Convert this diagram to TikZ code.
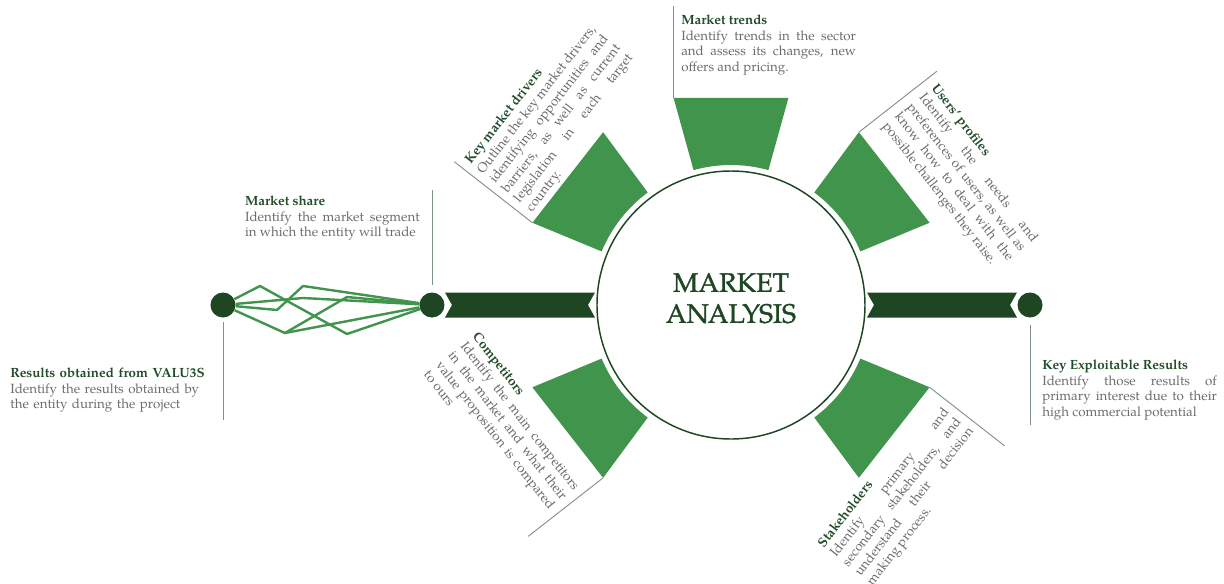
\documentclass[tikz,border=0pt]{standalone}
\usepackage{fontspec}
\setmainfont{texgyrepagella}[Extension=.otf, UprightFont=*-regular,
  BoldFont=*-bold, ItalicFont=*-italic, BoldItalicFont=*-bolditalic]
\newfontfamily\hubfont{texgyrepagella-regular.otf}[FakeBold=1.2]
\definecolor{leaf}{RGB}{64,148,76}
\definecolor{forest}{RGB}{30,70,34}
\definecolor{headgreen}{RGB}{35,77,42}
\definecolor{bodygray}{RGB}{108,108,108}
\definecolor{stemgray}{RGB}{128,146,130}
\newcommand{\hd}[1]{\textcolor{headgreen}{\textbf{#1}}\\}

\begin{document}
\begin{tikzpicture}[x=0.75pt, y=0.75pt,
  wedge/.style={fill=leaf},
  band/.style={fill=forest},
  dot/.style={circle, fill=forest, minimum size=18.75pt, inner sep=0pt},
  net/.style={draw=leaf, line width=1.8pt, line join=round},
  stem/.style={draw=stemgray, line width=0.7pt},
  hub/.style={circle, draw=forest, line width=1.1pt, minimum size=201pt, inner sep=0pt},
  hubtext/.style={align=center, text=forest, inner sep=0pt,
    font=\hubfont\fontsize{20}{23.25}\selectfont},
  note/.style={text width=131pt, align=justify, inner sep=0pt, text=bodygray,
    font=\fontsize{10}{11.6}\selectfont},
  turned/.style={note, text width=138pt}
]
\useasboundingbox (-731,-278) rectangle (493,305);

% centre
\node[hub] (hub) at (0,0) {};
\node[hubtext] (title) at (0,6.8) {MARKET\\ANALYSIS};

% five segments round the circle
\foreach \a in {38,90,142,218,322}
  \fill[wedge, rotate=\a-90] (74.5:140) arc[start angle=74.5, end angle=105.5, radius=140]
    -- (105.5:215) -- (74.5:215) -- cycle;

% side bands
\fill[band] (-286,12.5) -- (-136,12.5) -- (-143,0) -- (-136,-12.5) -- (-286,-12.5) -- (-279,0) -- cycle;
\fill[band] (136,12.5) -- (286,12.5) -- (279,0) -- (286,-12.5) -- (136,-12.5) -- (143,0) -- cycle;

\node[dot] (valu3s) at (-508,0) {};
\node[dot] (share) at (-299,0) {};
\node[dot] (ker) at (299,0) {};

% tangle between the two left dots
\coordinate (n1) at (-471,19);
\coordinate (n2) at (-428,19);
\coordinate (n3) at (-454,-5);
\coordinate (n4) at (-428,7);
\coordinate (n5) at (-384,8);
\coordinate (n6) at (-446,-28);
\coordinate (n7) at (-384,-29);
\draw[net] (valu3s) -- (n1) -- (n7) -- (share);
\draw[net] (valu3s) -- (n3) -- (n2) -- (share);
\draw[net] (valu3s) -- (n4) -- (share);
\draw[net] (valu3s) -- (n6) -- (n5) -- (share);
\draw[net] (n6) -- (share);

% horizontal notes
\draw[stem] ([yshift=5.6pt]share.north) -- ++(0,95);
\node[note, anchor=north east] (sharetxt) at (-311,109)
  {\hd{Market share}Identify the market segment\linebreak in which the entity will trade};
\draw[stem] ([yshift=-3.4pt]valu3s.south) -- ++(0,-98);
\node[note, text width=150pt, align=left, anchor=north west] (valtxt) at (-721,-63)
  {\hd{Results obtained from VALU3S}Identify the results obtained by\\the entity during the project};
\draw[stem] ([yshift=-5.6pt]ker.south) -- ++(0,-100);
\node[note, anchor=north west] (kertxt) at (311,-55)
  {\hd{Key Exploitable Results}Identify those results of\linebreak primary interest due to their\linebreak high commercial potential};

% notes on the upper segments
\draw[stem] (105.5:215) -- ++(0,92);
\node[note, anchor=north west] (trends) at (-50,290)
  {\hd{Market trends}Identify trends in the sector\linebreak and assess its changes, new\linebreak offers and pricing.};
\begin{scope}[rotate=52, transform shape]
  \draw[stem] (105.5:215) -- ++(0,99);
  \node[turned, anchor=north west] (drivers) at (-50,301)
    {\hd{Key market drivers}Outline the key market drivers,\linebreak identifying opportunities and\linebreak barriers, as well as current\linebreak legislation in each target\linebreak country.};
\end{scope}
\begin{scope}[rotate=-52, transform shape]
  \draw[stem] (105.5:215) -- ++(0,99);
  \node[turned, anchor=north west] (users) at (-48,301)
    {\hd{Users' profiles}Identify the needs and\linebreak preferences of users, as well as\linebreak know how to deal with the\linebreak possible challenges they raise.};
\end{scope}

% notes on the lower segments
\begin{scope}[rotate=-52, transform shape]
  \draw[stem] (285.5:215) -- ++(0,-95);
  \node[turned, anchor=north east] (rivals) at (50,-214)
    {\hd{Competitors}Identify the main competitors\linebreak in the market and what their\linebreak value proposition is compared\linebreak to ours};
\end{scope}
\begin{scope}[rotate=52, transform shape]
  \draw[stem] (285.5:215) -- ++(0,-95);
  \node[turned, anchor=north east] (holders) at (50,-213)
    {\hd{Stakeholders}Identify primary and\linebreak secondary stakeholders, and\linebreak understand their decision\linebreak making process.};
\end{scope}
\end{tikzpicture}
\end{document}
